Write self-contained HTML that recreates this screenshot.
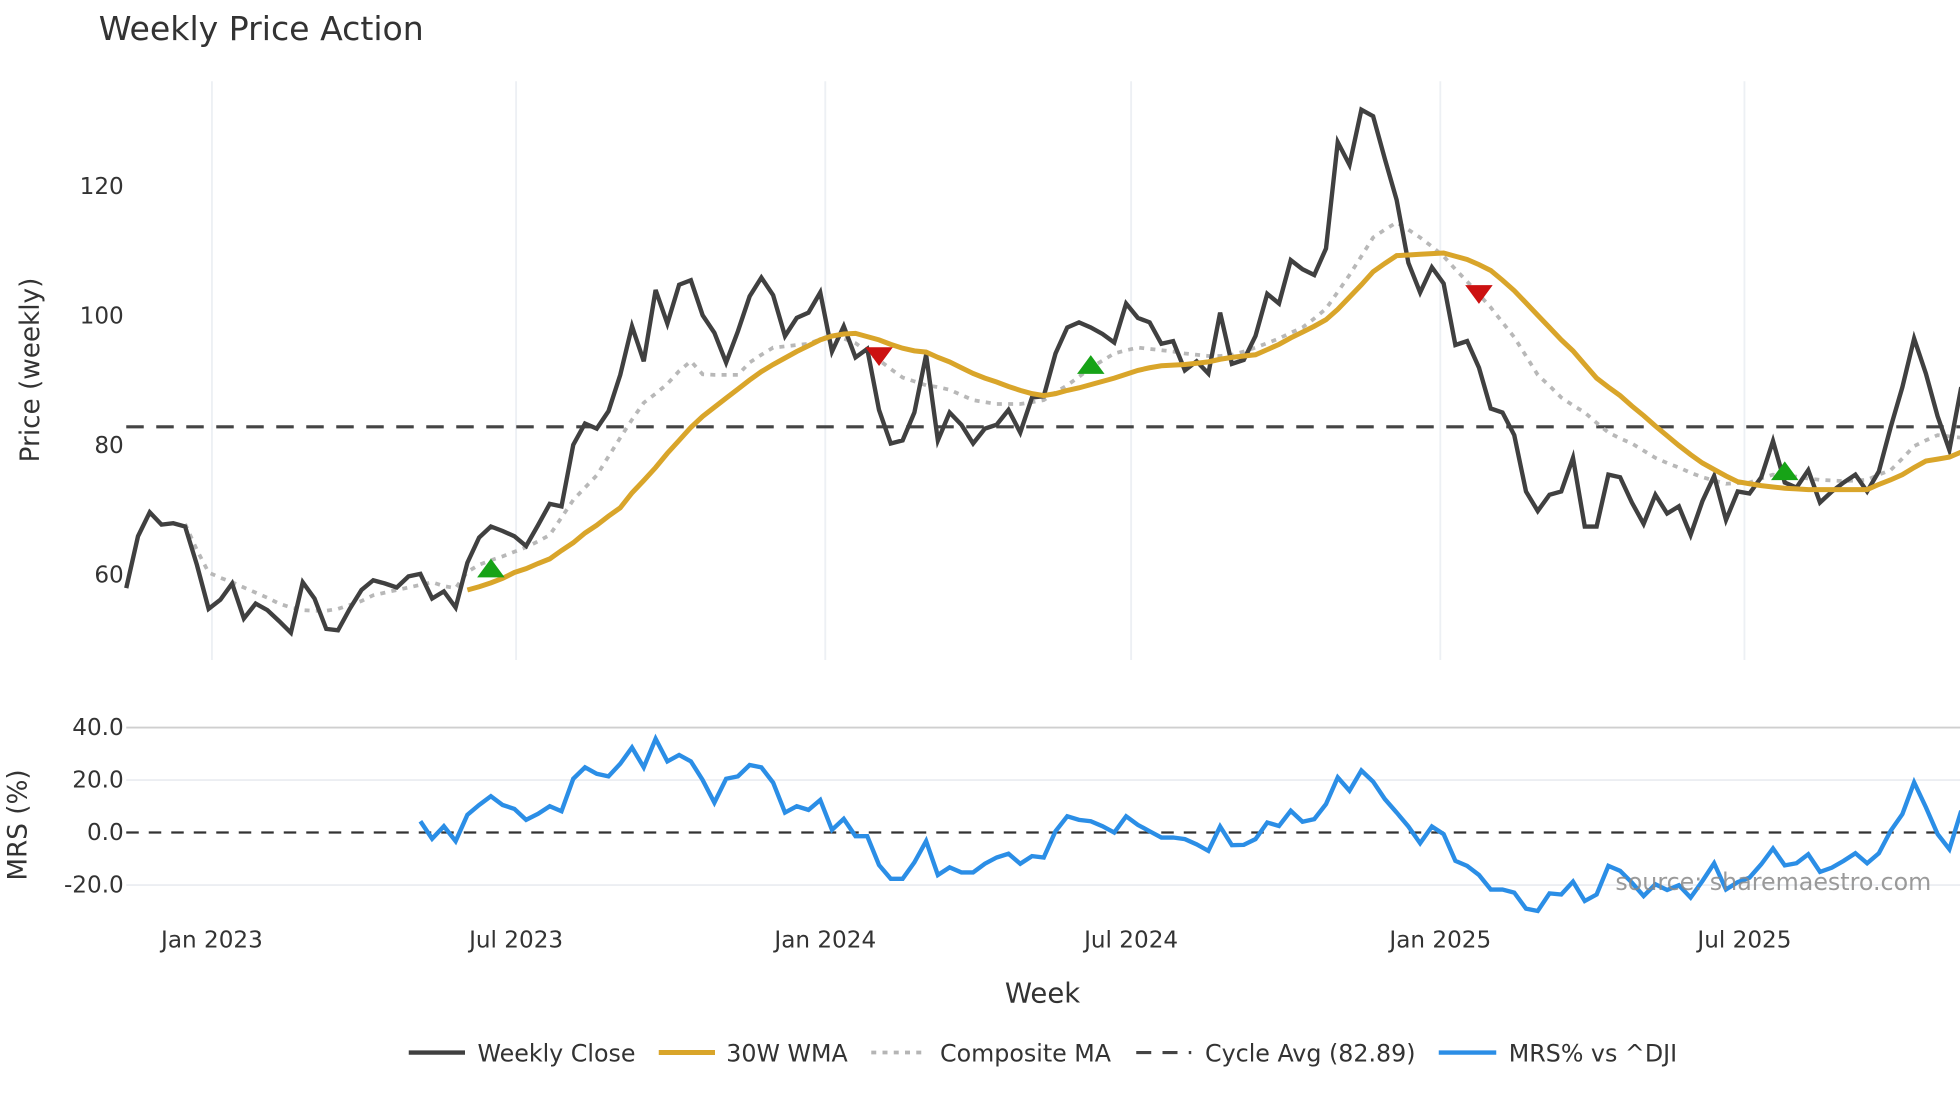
<!DOCTYPE html>
<html><head><meta charset="utf-8"><style>
html,body{margin:0;padding:0;background:#fff;}
svg{display:block;font-family:"DejaVu Sans","Liberation Sans",sans-serif;}
</style></head><body>
<svg id="chart" width="1960" height="1102" viewBox="0 0 1568 881.6" xmlns="http://www.w3.org/2000/svg">
<text x="79" y="32" font-size="26.5" fill="#333">Weekly Price Action</text>
<g id="grid"></g>
<g id="series"></g>
<text transform="translate(31,296) rotate(-90)" text-anchor="middle" font-size="21" fill="#333">Price (weekly)</text>
<text transform="translate(21,660) rotate(-90)" text-anchor="middle" font-size="21" fill="#333">MRS (%)</text>
<text x="834" y="802" text-anchor="middle" font-size="22" fill="#333">Week</text>
<text x="1545" y="712" text-anchor="end" font-size="19" fill="#888" fill-opacity="0.85">source: sharemaestro.com</text>
<g font-size="19" fill="#333">
 <g><line x1="327" y1="842" x2="372" y2="842" stroke="#404040" stroke-width="3.5"/><text x="382" y="849">Weekly Close</text></g>
 <g><line x1="527" y1="842" x2="572" y2="842" stroke="#d9a52a" stroke-width="4"/><text x="581" y="849">30W WMA</text></g>
 <g><line x1="697" y1="842" x2="741" y2="842" stroke="#b5b5b5" stroke-width="3" stroke-dasharray="4,5"/><text x="752" y="849">Composite MA</text></g>
 <g><line x1="909" y1="842" x2="953" y2="842" stroke="#444" stroke-width="2.5" stroke-dasharray="12,9"/><text x="964" y="849">Cycle Avg (82.89)</text></g>
 <g><line x1="1151" y1="842" x2="1197" y2="842" stroke="#2b8ee6" stroke-width="3.5"/><text x="1207" y="849">MRS% vs ^DJI</text></g>
</g>
</svg>
<script>
const closeVals=[58,66,69.7,67.8,68,67.5,61.6,54.8,56.2,58.7,53.3,55.6,54.6,52.9,51.1,58.9,56.4,51.7,51.5,54.8,57.7,59.2,58.7,58.1,59.8,60.2,56.4,57.5,55.0,61.9,65.8,67.5,66.8,66.0,64.5,67.7,71,70.6,80.1,83.4,82.6,85.3,90.9,98.4,93,104,98.8,104.8,105.5,100.1,97.4,92.8,97.6,103,105.9,103.2,96.9,99.7,100.5,103.6,94.5,98.4,93.6,94.9,85.5,80.3,80.8,85.1,94,80.8,85.1,83.2,80.3,82.6,83.2,85.5,82.0,87.4,87.6,94.2,98.2,99.0,98.2,97.2,95.9,101.9,99.7,99.0,95.7,96.1,91.6,93.0,91.1,100.5,92.6,93.2,96.9,103.4,101.9,108.6,107.2,106.3,110.4,126.8,123.3,131.8,130.8,124.2,117.9,108.2,103.6,107.5,105.0,95.5,96.1,92.0,85.7,85.1,81.6,72.9,69.9,72.4,72.9,78.1,67.5,67.5,75.5,75.1,71.2,67.9,72.4,69.5,70.6,66.2,71.4,75.3,68.5,72.9,72.6,75.1,80.7,74.3,73.5,76.2,71.2,72.9,74.3,75.5,72.9,76.0,82.8,89.0,96.5,91.1,84.5,79.3,89];
const wmaStart=29;
const wmaVals=[57.7,58.2,58.8,59.5,60.4,61.0,61.8,62.5,63.8,65.0,66.5,67.7,69.1,70.4,72.7,74.6,76.6,78.8,80.8,82.8,84.5,85.9,87.3,88.7,90.1,91.4,92.5,93.5,94.5,95.4,96.3,96.9,97.2,97.3,96.8,96.3,95.6,95.0,94.6,94.4,93.6,92.9,92.0,91.1,90.4,89.8,89.1,88.5,88.0,87.7,88.0,88.5,88.9,89.4,89.9,90.4,91.0,91.6,92.0,92.3,92.4,92.5,92.7,92.9,93.3,93.6,93.8,94.0,94.8,95.6,96.6,97.5,98.4,99.4,101.0,102.9,104.8,106.8,108.1,109.3,109.4,109.5,109.6,109.7,109.2,108.7,107.9,107.0,105.5,103.9,102.0,100.1,98.2,96.3,94.6,92.5,90.4,89.0,87.7,86.1,84.6,83.0,81.5,80.0,78.6,77.3,76.3,75.3,74.4,74.1,73.8,73.6,73.4,73.3,73.2,73.2,73.2,73.2,73.2,73.2,74.0,74.7,75.5,76.6,77.6,77.9,78.2,79.0];
const compStart=5;
const compVals=[67.9,63.9,60.4,59.6,58.9,58.1,57.3,56.5,55.6,55.0,54.6,54.5,54.5,54.8,55.4,56.0,56.9,57.3,57.7,58.1,58.5,58.9,58.3,58.0,60.5,61.6,62.3,62.9,63.6,64.3,65.2,66.2,68.9,71.6,73.5,75.4,78.3,81.2,84.0,86.6,88.0,89.5,91.5,93.0,91.0,90.9,90.9,90.9,92.8,94.0,95.1,95.3,95.5,95.7,96.4,97.1,96.5,95.8,94.5,93.2,91.8,90.5,89.9,89.3,89.0,88.6,87.8,87.0,86.7,86.4,86.4,86.4,86.7,87.0,88.2,89.3,90.6,92.0,93.1,94.2,94.7,95.1,94.9,94.7,94.5,94.2,94.0,93.8,93.8,94.0,94.5,95.1,95.8,96.5,97.4,98.2,99.6,101.1,103.7,106.3,109.2,112.1,113.3,114.4,113.3,112.1,110.7,109.2,107.2,105.3,103.3,101.3,99.0,96.7,93.8,90.9,89.2,87.4,86.2,85.1,83.5,82.0,81.1,80.3,79.2,78.1,77.3,76.6,75.8,75.1,74.6,74.1,74.2,74.3,74.9,75.5,75.3,75.2,74.9,74.7,74.6,74.5,74.6,74.7,75.5,76.2,78.0,79.9,80.8,81.6,81.4,81.2];
const cycleAvg=82.89;
const mrsStart=25;
const mrsVals=[4.3,-2.4,2.4,-3.3,6.7,10.5,13.8,10.5,9,4.8,7.1,10,8.1,20.5,24.8,22.4,21.4,26.2,32.4,24.8,35.7,27.1,29.5,27.1,20,11.4,20.5,21.4,25.7,24.8,19,7.6,10,8.6,12.4,1,5.2,-1.4,-1.4,-12.4,-17.6,-17.6,-11.4,-3.3,-16.2,-13.3,-15.2,-15.2,-11.9,-9.5,-8.1,-11.9,-9,-9.5,0.5,6.2,4.8,4.3,2.4,0,6.2,2.9,0.5,-1.9,-1.9,-2.5,-4.5,-7,2.3,-4.8,-4.7,-2.5,3.8,2.5,8.3,4.1,5.1,10.8,21,15.9,23.6,19.4,12.7,7.6,2.3,-4.1,2.3,-0.6,-10.8,-12.7,-16.2,-21.7,-21.7,-22.9,-29,-29.9,-23.2,-23.6,-18.7,-26.1,-23.6,-12.7,-14.6,-19.1,-24.2,-19.7,-21.9,-20.1,-24.8,-18.5,-11.7,-21.7,-18.9,-17.2,-12.1,-6.1,-12.5,-11.7,-8.3,-15,-13.4,-10.8,-7.9,-11.7,-7.9,0.6,7,19.1,9.6,-0.6,-6.4,8.3];
const buyIdx=[31,82,141];
const buyVals=[61.0,92.4,76.0];
const sellIdx=[64,115];
const sellVals=[93.8,103.4];
const priceTicks=[60,80,100,120];
const mrsTicks=[40,20,0,-20];
const mrsTickLabels=["40.0","20.0","0.0","-20.0"];
const dateTicks=[[2023,0],[2023,6],[2024,0],[2024,6],[2025,0],[2025,6]];
const dateTickLabels=["Jan 2023","Jul 2023","Jan 2024","Jul 2024","Jan 2025","Jul 2025"];

const NS="http://www.w3.org/2000/svg";
const firstDate=Date.UTC(2022,10,11);
const pxPerDay=9.41/7;
const X0=101;
function xIdx(i){return X0+i*9.41;}
function xDate(y,m){return X0+(Date.UTC(y,m,1)-firstDate)/86400000*pxPerDay;}
function yP(v){return 149+(120-v)*5.185;}
function yM(v){return 666-v*2.1;}
function mk(tag,attrs,parent){const e=document.createElementNS(NS,tag);for(const k in attrs)e.setAttribute(k,attrs[k]);parent.appendChild(e);return e;}
const grid=document.getElementById('grid');
const ser=document.getElementById('series');

dateTicks.forEach((d,k)=>{
  const x=xDate(d[0],d[1]);
  const gl=mk('line',{x1:x,y1:65,x2:x,y2:528,stroke:'#edf0f4','stroke-width':1.5},grid);
  
  
  const t=mk('text',{x:x,y:758,'text-anchor':'middle','font-size':18.5,fill:'#333'},grid);
  t.textContent=dateTickLabels[k];
  
  
});
priceTicks.forEach(v=>{
  const t=mk('text',{x:99,y:yP(v)+6,'text-anchor':'end','font-size':18.5,fill:'#333'},grid);
  t.textContent=v;
  
  
});
mrsTicks.forEach((v,k)=>{
  if(v!==0){
    const gl=mk('line',{x1:101,y1:yM(v),x2:1568,y2:yM(v),stroke:v===40?'#cfcfcf':'#eceef2','stroke-width':1.5},grid);
    
    
  }
  const t=mk('text',{x:99,y:yM(v)+6,'text-anchor':'end','font-size':18.5,fill:'#333'},grid);
  t.textContent=mrsTickLabels[k];
  
  
});
const z=mk('line',{x1:101,y1:yM(0),x2:1568,y2:yM(0),stroke:'#333','stroke-width':1.8,'stroke-dasharray':'10,8'},grid);



function pts(vals,start,yf){return vals.map((v,i)=>xIdx(start+i).toFixed(1)+','+yf(v).toFixed(1)).join(' ');}
const cyc=mk('line',{x1:101,y1:yP(cycleAvg),x2:1568,y2:yP(cycleAvg),stroke:'#444','stroke-width':2.5,'stroke-dasharray':'14,10'},ser);


const comp=mk('polyline',{points:pts(compVals,compStart,yP),fill:'none',stroke:'#b8b8b8','stroke-width':3,'stroke-dasharray':'4,5'},ser);


const cl=mk('polyline',{points:pts(closeVals,0,yP),fill:'none',stroke:'#404040','stroke-width':3.5,'stroke-linejoin':'miter'},ser);


const w=mk('polyline',{points:pts(wmaVals,wmaStart,yP),fill:'none',stroke:'#d9a52a','stroke-width':4},ser);


const m=mk('polyline',{points:pts(mrsVals,mrsStart,yM),fill:'none',stroke:'#2b8ee6','stroke-width':3.5},ser);


buyIdx.forEach((i,k)=>{
  const x=xIdx(i),y=yP(buyVals[k]);
  const p=mk('polygon',{points:`${x-11},${y+7} ${x+11},${y+7} ${x},${y-8}`,fill:'#17a317'},ser);
  
  
});
sellIdx.forEach((i,k)=>{
  const x=xIdx(i),y=yP(sellVals[k]);
  const p=mk('polygon',{points:`${x-11},${y-7} ${x+11},${y-7} ${x},${y+8}`,fill:'#cc1111'},ser);
  
  
});
</script>
</body></html>
